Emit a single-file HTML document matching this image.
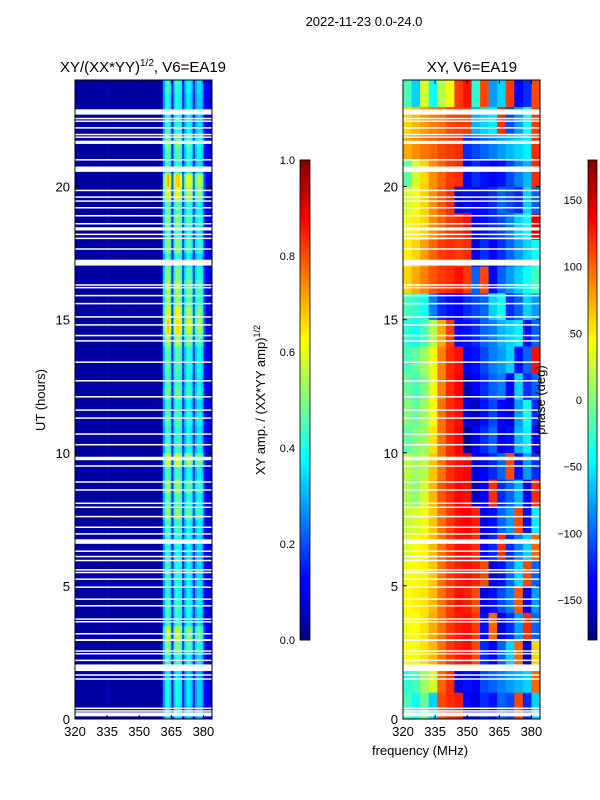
<!DOCTYPE html>
<html><head><meta charset="utf-8">
<style>
html,body{margin:0;padding:0;background:#fff;}
svg{display:block;font-family:"Liberation Sans",sans-serif;}
</style></head>
<body>
<svg id="fig" width="600" height="800" viewBox="0 0 600 800" xmlns="http://www.w3.org/2000/svg">
<defs>
<linearGradient id="jet" x1="0" y1="1" x2="0" y2="0">
<stop offset="0" stop-color="#00007f"/><stop offset="0.11" stop-color="#0000ff"/><stop offset="0.125" stop-color="#0000ff"/>
<stop offset="0.375" stop-color="#00ffff"/><stop offset="0.625" stop-color="#ffff00"/><stop offset="0.875" stop-color="#ff0000"/><stop offset="1" stop-color="#7f0000"/>
</linearGradient>
</defs>
<text x="364" y="26" font-size="13" text-anchor="middle">2022-11-23 0.0-24.0</text>
<text x="143" y="72" font-size="15" text-anchor="middle">XY/(XX*YY)<tspan font-size="10" dy="-6">1/2</tspan><tspan dy="6">, V6=EA19</tspan></text>
<text x="472" y="72" font-size="15" text-anchor="middle">XY, V6=EA19</text>
<text transform="translate(45,400) rotate(-90)" font-size="13" text-anchor="middle">UT (hours)</text>
<text x="420" y="755" font-size="13" text-anchor="middle">frequency (MHz)</text>
<text transform="translate(265,400) rotate(-90)" font-size="13" text-anchor="middle">XY amp. / (XX*YY amp)<tspan font-size="9" dy="-5">1/2</tspan></text>
<g id="left"></g>
<g id="right"></g>
<g id="axes"></g>
<text transform="translate(545,400) rotate(-90)" font-size="13" text-anchor="middle">phase (deg)</text>
<rect x="300" y="160" width="10" height="480" fill="url(#jet)" stroke="#000" stroke-width="0.8"/>
<rect x="588" y="160" width="9" height="480" fill="url(#jet)" stroke="#000" stroke-width="0.8"/>
</svg>
<script>
// ---- data ----
const ampFreqs = []; for (let f = 320; f < 384; f++) ampFreqs.push(f);
const ampColProfile = [0.03,0.03,0.03,0.03,0.03,0.03,0.03,0.03,0.03,0.03,0.03,0.03,0.03,0.03,0.03,0.04,0.03,0.03,0.03,0.03,0.03,0.03,0.03,0.03,0.03,0.03,0.03,0.03,0.03,0.03,0.03,0.03,0.03,0.03,0.03,0.03,0.03,0.03,0.03,0.03,0.04,
 0.28,0.4,0.44,0.36,0.14,0.36,0.42,0.42,0.38,0.16,0.3,0.38,0.38,0.34,0.16,0.3,0.35,0.35,0.3,0.13,0.1,0.08,0.08];
const ampRowGain = [0.85,0.95,0.95,0.85,1.0,1.2,1.35,1.0,1.05,0.95,1.0,1.0,0.95,1.0,1.05,1.25,1.1,1.25,1.05,1.4,1.05,1.0,1.1,1.0,
 1.15,1.05,1.1,1.1,1.3,1.55,1.45,1.25,1.3,1.2,1.0,1.2,1.05,1.2,1.1,1.45,1.6,1.0,1.1,1.2,1.0,0.95,0.95,1.0];
const phaseFreqs = [320,324,328,332,336,340,344,348,352,356,360,364,368,372,376,380];
const phaseRows = [
[-20,-40,-10,-60,110,120,125,-140,-150,-120,-130,-100,-110,110,-120,-60],
[-30,-20,10,30,100,120,-150,-130,-140,-110,-100,-90,-80,-70,-60,100],
[45,40,55,70,95,115,125,130,110,-120,-140,-100,-60,100,-150,60],
[40,45,55,75,95,115,125,130,115,-130,100,-150,-120,-80,120,-100],
[45,50,55,70,95,115,130,125,110,-150,-130,-110,-90,105,-140,-80],
[40,45,50,65,95,115,125,130,125,110,-150,-130,-100,-60,110,-100],
[30,40,50,70,95,115,130,130,120,-140,-120,120,-120,-90,-60,100],
[25,30,40,65,95,115,130,135,125,-150,-130,-100,-80,110,-130,-50],
[15,5,30,70,105,120,135,130,-160,-140,120,-120,-100,-70,-140,120],
[20,10,20,65,95,120,130,135,-150,-140,-120,-100,110,-130,-80,-120],
[-10,0,10,55,95,120,135,-170,-140,-120,-100,-150,-130,-70,-50,-140],
[0,-10,10,45,95,120,130,-150,-160,-130,-110,-140,-150,-80,-40,-120],
[-10,-20,0,40,90,120,135,-160,-140,-120,-100,-90,-140,-60,-120,-100],
[-20,-10,10,40,90,120,130,-140,-130,-110,-90,-80,-60,-130,-100,130],
[-30,-40,-20,20,75,115,-140,-130,-120,-100,-90,-70,-60,-50,-130,-100],
[-20,-30,-40,-90,-120,-130,-140,-120,-110,-100,-60,-40,-120,-100,-60,-80],
[60,75,90,105,115,120,130,115,-100,110,-140,-100,-80,-60,-40,-20],
[50,60,80,100,115,120,115,120,-150,-120,-140,-120,-100,-80,-60,-40],
[40,50,60,85,100,115,120,130,-140,-130,-120,-110,-90,-60,-40,140],
[30,40,60,85,105,120,-150,-130,-140,-130,-120,-100,-110,-120,-60,-100],
[-10,30,60,85,100,115,120,-140,-120,-130,-140,-130,-110,-90,-70,120],
[75,85,95,100,110,115,120,-120,-110,-100,-90,-80,-70,-60,-50,120],
[60,70,80,90,95,110,115,115,-70,-60,-50,120,-110,-80,-40,115],
[-20,-60,30,-40,20,40,115,130,-30,110,-80,-60,115,-140,-120,110]];
const flagStart = [22.7,22.53,22.43,22.18,21.93,21.83,21.6,20.98,20.55,19.83,19.58,19.43,19.18,18.88,18.58,18.35,18.18,18.03,17.63,17.03,16.28,16.18,15.88,15.58,15.08,14.78,14.38,14.18,13.38,12.68,12.08,11.58,11.28,10.68,10.28,9.72,9.48,8.88,8.58,8.08,7.93,7.58,7.18,6.93,6.58,6.28,6.08,5.93,5.58,5.48,5.23,4.93,4.48,4.23,3.73,3.63,3.18,2.93,2.53,2.43,2.18,1.8,1.63,1.48,0.38,0.28,0.1];
const flagEnd   = [22.9,22.58,22.48,22.23,21.98,21.88,21.72,21.03,20.75,19.88,19.63,19.48,19.23,18.93,18.63,18.47,18.23,18.08,17.68,17.25,16.33,16.23,15.93,15.63,15.13,14.83,14.43,14.23,13.43,12.73,12.13,11.63,11.33,10.73,10.33,9.85,9.53,8.93,8.63,8.13,7.98,7.63,7.23,6.98,6.75,6.33,6.13,5.98,5.63,5.53,5.28,4.98,4.53,4.28,3.78,3.68,3.23,3.0,2.58,2.48,2.23,2.05,1.68,1.53,0.43,0.33,0.25];
const freqTicks = [320,335,350,365,380];
const utTicks = [0,5,10,15,20];
const ampTicks = [0.0,0.2,0.4,0.6,0.8,1.0];
const phaseTicks = [-150,-100,-50,0,50,100,150];

// ---- scales ----
const NS = "http://www.w3.org/2000/svg";
const Y0 = 719, Y1 = 80;
const yUT = t => Y0 - (t / 24) * (Y0 - Y1);
const xL = f => 75 + (f - 320) * (137 / 64);
const xR = f => 403 + (f - 320) * (137 / 64);
const jetStops = [[0,[0,0,127]],[0.11,[0,0,255]],[0.125,[0,0,255]],[0.375,[0,255,255]],[0.625,[255,255,0]],[0.875,[255,0,0]],[1,[127,0,0]]];
function jet(v){v=Math.max(0,Math.min(1,v));for(let i=1;i<jetStops.length;i++){const a=jetStops[i-1],b=jetStops[i];if(v<=b[0]){const t=(v-a[0])/((b[0]-a[0])||1);const c=a[1].map((x,k)=>Math.round(x+(b[1][k]-x)*t));return `rgb(${c[0]},${c[1]},${c[2]})`;}}return "rgb(127,0,0)";}
function mk(tag, attrs, parent){const e=document.createElementNS(NS,tag);for(const k in attrs)e.setAttribute(k,attrs[k]);parent.appendChild(e);return e;}

const gl = document.getElementById('left');
const gr = document.getElementById('right');
const ga = document.getElementById('axes');

const rowH = 24 / ampRowGain.length;
ampRowGain.forEach((g, r) => {
  ampFreqs.forEach((f, c) => {
    const v = ampColProfile[c] > 0.1 ? ampColProfile[c] * g : ampColProfile[c];
    const el = mk('rect', {x: xL(f), y: yUT((r + 1) * rowH), width: xL(f + 1) - xL(f) + 0.3, height: yUT(r * rowH) - yUT((r + 1) * rowH) + 0.3, fill: jet(v)}, gl);
    
    
  });
});
phaseRows.forEach((row, r) => {
  row.forEach((p, c) => {
    const f = phaseFreqs[c];
    const el = mk('rect', {x: xR(f), y: yUT(r + 1), width: xR(f + 4) - xR(f) + 0.3, height: yUT(r) - yUT(r + 1) + 0.3, fill: jet((p + 180) / 360)}, gr);
    
    
  });
});
flagStart.forEach((s, i) => {
  [[gl, xL], [gr, xR]].forEach(([g, xs]) => {
    const el = mk('rect', {x: xs(320), y: yUT(flagEnd[i]), width: xs(384) - xs(320), height: Math.max(1.5, yUT(s) - yUT(flagEnd[i])), fill: '#fff'}, g);
    
    
  });
});
[[xL, 'left'], [xR, 'right']].forEach(([xs, nm]) => {
  const fr = mk('rect', {x: xs(320), y: Y1, width: xs(384) - xs(320), height: Y0 - Y1, fill: 'none', stroke: '#000', 'stroke-width': 1}, ga);
  
  
  freqTicks.forEach(f => {
    mk('line', {x1: xs(f), x2: xs(f), y1: Y0, y2: Y0 - 4, stroke: '#000'}, ga);
    mk('line', {x1: xs(f), x2: xs(f), y1: Y1, y2: Y1 + 4, stroke: '#000'}, ga);
    const t = mk('text', {x: xs(f), y: Y0 + 17, 'font-size': 13, 'text-anchor': 'middle'}, ga);
    t.textContent = f;
    
    
  });
  utTicks.forEach(u => {
    mk('line', {x1: xs(320), x2: xs(320) + 4, y1: yUT(u), y2: yUT(u), stroke: '#000'}, ga);
    mk('line', {x1: xs(384), x2: xs(384) - 4, y1: yUT(u), y2: yUT(u), stroke: '#000'}, ga);
    const t = mk('text', {x: xs(320) - 5, y: yUT(u) + 5, 'font-size': 13, 'text-anchor': 'end'}, ga);
    t.textContent = u;
    
    
  });
});
ampTicks.forEach(v => {
  const y = 640 - v * 480;
  mk('line', {x1: 300, x2: 310, y1: y, y2: y, stroke: '#000', 'stroke-width': 0.8}, ga);
  const t = mk('text', {x: 295, y: y + 4, 'font-size': 11, 'text-anchor': 'end'}, ga);
  t.textContent = v.toFixed(1);
  
  
});
phaseTicks.forEach(v => {
  const y = 640 - (v + 180) / 360 * 480;
  mk('line', {x1: 588, x2: 597, y1: y, y2: y, stroke: '#000', 'stroke-width': 0.8}, ga);
  const t = mk('text', {x: 582, y: y + 4, 'font-size': 11, 'text-anchor': 'end'}, ga);
  t.textContent = v < 0 ? '\u2212' + Math.abs(v) : v;
  
  
});
</script>
</body></html>
